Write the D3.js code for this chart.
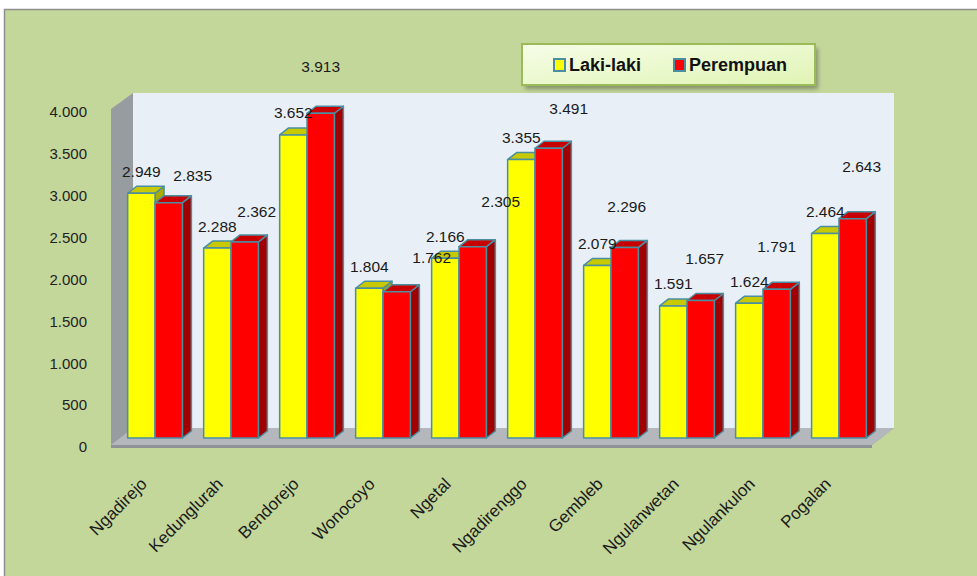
<!DOCTYPE html>
<html>
<head>
<meta charset="utf-8">
<script src="https://cdn.jsdelivr.net/npm/d3@7"></script>
<style>
  body { margin: 0; background: #ffffff; }
  svg { display: block; }
</style>
</head>
<body>
<svg class="svg"></svg>
<script>
const svgWidth = 977;
const svgHeight = 576;

const svg = d3.select(".svg")
    .attr("width", svgWidth)
    .attr("height", svgHeight);

// data
const villages = ["Ngadirejo", "Kedunglurah", "Bendorejo", "Wonocoyo", "Ngetal",
    "Ngadirenggo", "Gembleb", "Ngulanwetan", "Ngulankulon", "Pogalan"];
const seriesNames = ["Laki-laki", "Perempuan"];
const lakiLaki = [2949, 2288, 3652, 1804, 2166, 3355, 2079, 1591, 1624, 2464];
const perempuan = [2835, 2362, 3913, 1762, 2305, 3491, 2296, 1657, 1791, 2643];
const yTicks = [0, 500, 1000, 1500, 2000, 2500, 3000, 3500, 4000];

// the red labels sit where excel's 3d layout dropped them (dx, lift)
const redLabelShift = [[24, 27], [12, 30], [0, 46], [35, 34], [28, 45],
    [20, 39], [2, 40], [4, 41], [0, 42], [9, 52]];

const faceColors = {
    "Laki-laki": { front: "#ffff00", top: "#c9c900", side: "#a9a900" },
    "Perempuan": { front: "#ff0000", top: "#c80000", side: "#a00000" }
};
const edgeColor = "#4a8ea2";

// indonesian number format: 2.949
const idLocale = d3.formatLocale({ decimal: ",", thousands: ".", grouping: [3], currency: ["Rp", ""] });
const fmt = idLocale.format(",d");

// background panel
svg.append("rect")
    .attr("x", 4.5).attr("y", 9.5)
    .attr("width", svgWidth).attr("height", svgHeight)
    .attr("fill", "#c4d79b")
    .attr("stroke", "#8e8e8e")
    .attr("stroke-width", 1.5);

// scales
const baseY = 438;
const yScale = d3.scaleLinear().domain([0, 4000]).range([baseY, 106]);
const axisScale = d3.scaleLinear().domain([0, 4000]).range([447, 112]);

const xScale = d3.scaleBand()
    .domain(villages)
    .range([114, 880])
    .paddingInner(0.28)
    .paddingOuter(0.18);

const xInner = d3.scaleBand()
    .domain(seriesNames)
    .range([0, xScale.bandwidth()]);

const depthX = 9, depthY = -7;

// 3d walls
const wallLeft = 133, wallRight = 894, wallTop = 93, wallBottom = 428;
svg.append("rect")
    .attr("x", wallLeft).attr("y", wallTop)
    .attr("width", wallRight - wallLeft).attr("height", wallBottom - wallTop)
    .attr("fill", "#e8eff7");

svg.append("polygon")
    .attr("points", [[111, 109], [wallLeft, wallTop], [wallLeft, wallBottom], [111, 445]].join(" "))
    .attr("fill", "#979ca0");

// floor with a thin front edge
svg.append("polygon")
    .attr("points", [[111, 445], [wallLeft, wallBottom], [wallRight, wallBottom], [872, 445], [872, 448], [111, 448]].join(" "))
    .attr("fill", "#8f9397");
svg.append("polygon")
    .attr("points", [[111, 445], [wallLeft, wallBottom], [wallRight, wallBottom], [872, 445]].join(" "))
    .attr("fill", "#b4b8bc");

// y axis labels
const yAxis = svg.append("g")
    .attr("transform", "translate(87,0)")
    .call(d3.axisLeft(axisScale).tickValues(yTicks).tickSize(0).tickPadding(0).tickFormat(fmt));
yAxis.select(".domain").remove();
yAxis.selectAll("text")
    .attr("font-family", "'Liberation Sans', Arial, sans-serif")
    .attr("font-size", 15)
    .attr("fill", "#222");

// bars, drawn left to right so each hides the side of the one before
const rows = [];
villages.forEach((v, i) => {
    rows.push({ village: v, series: "Laki-laki", value: lakiLaki[i], i: i });
    rows.push({ village: v, series: "Perempuan", value: perempuan[i], i: i });
});

const bars = svg.selectAll("g.bar")
    .data(rows)
    .enter()
    .append("g")
    .attr("class", "bar")
    .attr("stroke", edgeColor)
    .attr("stroke-width", 1.5)
    .attr("stroke-linejoin", "round");

function barGeom(d) {
    const x0 = xScale(d.village) + xInner(d.series);
    const w = xInner.bandwidth();
    const yt = yScale(d.value);
    return { x0: x0, w: w, yt: yt };
}

bars.append("polygon") // side face
    .attr("points", d => {
        const g = barGeom(d);
        const xr = g.x0 + g.w;
        return [[xr, g.yt], [xr + depthX, g.yt + depthY], [xr + depthX, baseY + depthY], [xr, baseY]].join(" ");
    })
    .attr("fill", d => faceColors[d.series].side);

bars.append("polygon") // top face
    .attr("points", d => {
        const g = barGeom(d);
        return [[g.x0, g.yt], [g.x0 + depthX, g.yt + depthY], [g.x0 + g.w + depthX, g.yt + depthY], [g.x0 + g.w, g.yt]].join(" ");
    })
    .attr("fill", d => faceColors[d.series].top);

bars.append("rect") // front face
    .attr("x", d => barGeom(d).x0)
    .attr("y", d => barGeom(d).yt)
    .attr("width", xInner.bandwidth())
    .attr("height", d => baseY - barGeom(d).yt)
    .attr("fill", d => faceColors[d.series].front);

// data labels
svg.selectAll("text.val")
    .data(rows)
    .enter()
    .append("text")
    .attr("class", "val")
    .attr("x", d => {
        const g = barGeom(d);
        const shift = d.series === "Perempuan" ? redLabelShift[d.i][0] : 0;
        return g.x0 + g.w / 2 + shift;
    })
    .attr("y", d => {
        const lift = d.series === "Perempuan" ? redLabelShift[d.i][1] : 21.5;
        return yScale(d.value) - lift + 5;
    })
    .attr("text-anchor", "middle")
    .attr("font-family", "'Liberation Sans', Arial, sans-serif")
    .attr("font-size", 15.5)
    .attr("fill", "#1a1a1a")
    .text(d => fmt(d.value));

// category labels, tilted
svg.selectAll("text.cat")
    .data(villages)
    .enter()
    .append("text")
    .attr("class", "cat")
    .attr("transform", d => {
        const cx = xScale(d) + xScale.bandwidth() / 2 - 7;
        return "translate(" + cx + ",485) rotate(-45)";
    })
    .attr("text-anchor", "end")
    .attr("font-family", "'Liberation Sans', Arial, sans-serif")
    .attr("font-size", 17)
    .attr("fill", "#1a1a1a")
    .text(d => d);

// legend
const defs = svg.append("defs");
const grad = defs.append("linearGradient")
    .attr("id", "legendFill")
    .attr("x1", 0).attr("y1", 0).attr("x2", 1).attr("y2", 1);
grad.append("stop").attr("offset", "0%").attr("stop-color", "#f6fde8");
grad.append("stop").attr("offset", "100%").attr("stop-color", "#e0f4b4");
defs.append("filter")
    .attr("id", "blur")
    .append("feGaussianBlur")
    .attr("stdDeviation", 2);

const legend = svg.append("g");
legend.append("rect")
    .attr("x", 525).attr("y", 48)
    .attr("width", 293).attr("height", 41)
    .attr("fill", "#6b7356")
    .attr("opacity", 0.7)
    .attr("filter", "url(#blur)");
legend.append("rect")
    .attr("x", 522).attr("y", 44)
    .attr("width", 293).attr("height", 41)
    .attr("fill", "url(#legendFill)")
    .attr("stroke", "#9bbb59")
    .attr("stroke-width", 2);

const legendX = [554, 674];
const legendItem = legend.selectAll("g.item")
    .data(seriesNames)
    .enter()
    .append("g")
    .attr("transform", (d, i) => "translate(" + legendX[i] + ",59)");
legendItem.append("rect")
    .attr("width", 11).attr("height", 12)
    .attr("fill", d => faceColors[d].front)
    .attr("stroke", edgeColor)
    .attr("stroke-width", 2);
legendItem.append("text")
    .attr("x", 15)
    .attr("y", 12)
    .attr("font-family", "'Liberation Sans', Arial, sans-serif")
    .attr("font-size", 18)
    .attr("font-weight", "bold")
    .attr("fill", "#111")
    .text(d => d);
</script>
</body>
</html>
